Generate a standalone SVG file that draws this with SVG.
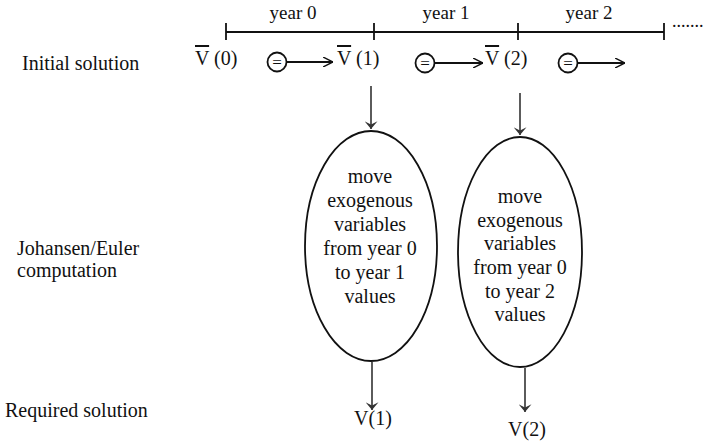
<svg xmlns="http://www.w3.org/2000/svg" width="710" height="445" viewBox="0 0 710 445">
<style>
text{font-family:"Liberation Serif","Times New Roman",serif;fill:#111;font-size:20px}
.yr{font-size:19px;text-anchor:middle}
.mid{text-anchor:middle}
.ln{stroke:#111;stroke-width:1.8;fill:none}
.arr{stroke:#333;stroke-width:1.6;fill:none}
.ov{text-decoration:overline}
</style>
<defs>
<marker id="hd" viewBox="0 0 10 10" refX="10" refY="5" markerWidth="10" markerHeight="10" markerUnits="userSpaceOnUse" orient="auto">
<path d="M0,0 L10,5 L0,10" fill="none" stroke="#111" stroke-width="1.4"/>
</marker>
<marker id="dn" viewBox="0 0 12 20" refX="12" refY="10" markerWidth="20" markerHeight="13" markerUnits="userSpaceOnUse" orient="auto">
<path d="M0,0 L12,10 L0,20 L5,10 Z" fill="#333"/>
</marker>
</defs>
<g id="timeline">
<line class="ln" x1="226" y1="32" x2="664" y2="32"/>
<line class="ln" x1="226" y1="23" x2="226" y2="40"/>
<line class="ln" x1="374" y1="23" x2="374" y2="40"/>
<line class="ln" x1="518" y1="23" x2="518" y2="40"/>
<line class="ln" x1="664" y1="23" x2="664" y2="40"/>
<text class="yr" x="293" y="19">year 0</text>
<text class="yr" x="446" y="19">year 1</text>
<text class="yr" x="589" y="19">year 2</text>
<text x="672" y="27" style="font-size:18px">.......</text>
</g>
<g id="labels">
<text x="22" y="70">Initial solution</text>
<text x="17" y="255">Johansen/Euler</text>
<text x="17" y="277">computation</text>
<text x="5" y="417">Required solution</text>
</g>
<g id="v0"><text x="195" y="65"><tspan class="ov">V</tspan> (0)</text></g>
<g id="v1"><text x="337" y="65"><tspan class="ov">V</tspan> (1)</text></g>
<g id="v2"><text x="485" y="65"><tspan class="ov">V</tspan> (2)</text></g>
<g id="eq1"><circle cx="277" cy="62" r="9.5" class="ln" stroke-width="1.7"/><text class="mid" x="277" y="68" style="font-size:17px">=</text></g>
<g id="eq2"><circle cx="425" cy="63" r="9.5" class="ln" stroke-width="1.7"/><text class="mid" x="425" y="69" style="font-size:17px">=</text></g>
<g id="eq3"><circle cx="568" cy="63" r="9.5" class="ln" stroke-width="1.7"/><text class="mid" x="568" y="69" style="font-size:17px">=</text></g>
<g id="e1">
<ellipse cx="371" cy="246" rx="66" ry="115" class="ln" stroke-width="2.4"/>
<text class="mid" x="370" y="183">move</text>
<text class="mid" x="370" y="207">exogenous</text>
<text class="mid" x="370" y="231">variables</text>
<text class="mid" x="370" y="255">from year 0</text>
<text class="mid" x="370" y="279">to year 1</text>
<text class="mid" x="370" y="303">values</text>
</g>
<g id="e2">
<ellipse cx="520" cy="252" rx="62" ry="115" class="ln" stroke-width="2.4"/>
<text class="mid" x="520" y="203">move</text>
<text class="mid" x="520" y="227">exogenous</text>
<text class="mid" x="520" y="250">variables</text>
<text class="mid" x="520" y="274">from year 0</text>
<text class="mid" x="520" y="298">to year 2</text>
<text class="mid" x="520" y="321">values</text>
</g>
<g id="r1"><text class="mid" x="373" y="425">V(1)</text></g>
<g id="r2"><text class="mid" x="527" y="436">V(2)</text></g>
<g id="connectors">
<line class="ln" x1="286.5" y1="62" x2="333" y2="62" marker-end="url(#hd)"/>
<line class="ln" x1="434.5" y1="63" x2="483" y2="63" marker-end="url(#hd)"/>
<line class="ln" x1="577.5" y1="63" x2="625" y2="63" marker-end="url(#hd)"/>
<line class="arr" x1="371" y1="86" x2="371" y2="129" marker-end="url(#dn)"/>
<line class="arr" x1="520" y1="93" x2="520" y2="135" marker-end="url(#dn)"/>
<line class="arr" x1="372" y1="362" x2="372" y2="410" marker-end="url(#dn)"/>
<line class="arr" x1="525" y1="368" x2="525" y2="412" marker-end="url(#dn)"/>
</g>
</svg>
